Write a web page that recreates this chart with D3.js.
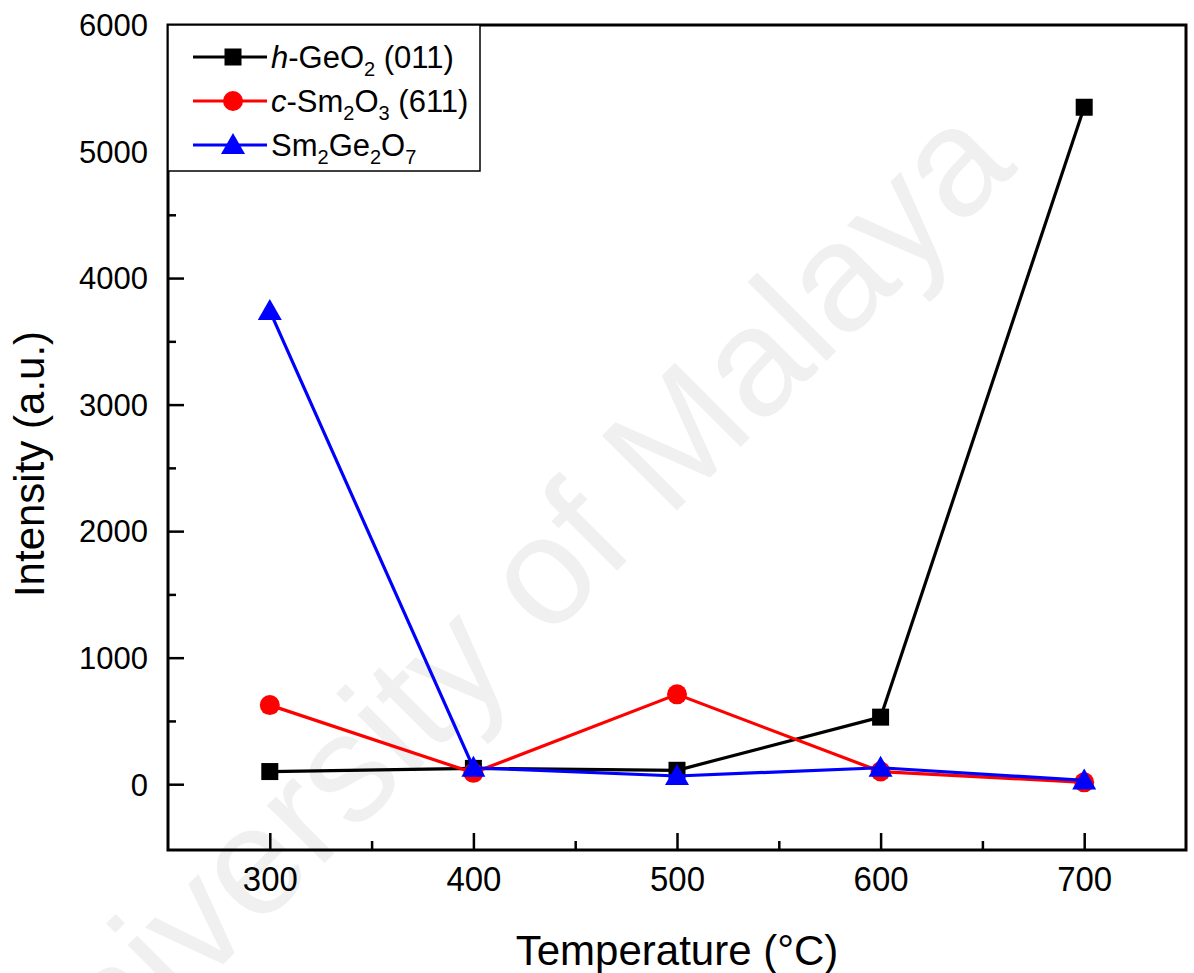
<!DOCTYPE html>
<html>
<head>
<meta charset="utf-8">
<script src="https://cdn.jsdelivr.net/npm/d3@7"></script>
<style>
  body { margin: 0; background: #fff; }
  svg { display: block; }
</style>
</head>
<body>
<svg id="chart" width="1194" height="973"></svg>
<script>
'use strict';

var temperatures = [300, 400, 500, 600, 700];
var geo2Values = [100, 125, 110, 530, 5350];
var sm2o3Values = [625, 90, 710, 100, 15];
var sm2ge2o7Values = [3740, 130, 65, 130, 30];
var yTicks = [0, 1000, 2000, 3000, 4000, 5000, 6000];
var yMinorTicks = [500, 1500, 2500, 3500, 4500, 5500];
var xTicks = [300, 400, 500, 600, 700];
var xMinorTicks = [350, 450, 550, 650];

var series = [
    { name: 'geo2', color: '#000000', shape: 'square', values: geo2Values },
    { name: 'sm2o3', color: '#ff0000', shape: 'circle', values: sm2o3Values },
    { name: 'sm2ge2o7', color: '#0000ff', shape: 'triangle', values: sm2ge2o7Values }
];

var svg = d3.select('#chart');
var plotLeft = 168, plotRight = 1186, plotTop = 25, plotBottom = 850;

var x = d3.scaleLinear().domain([250, 750]).range([plotLeft, plotRight]);
var y = d3.scaleLinear().domain([-520, 6000]).range([plotBottom, plotTop]);

// watermark
svg.append('text')
    .attr('transform', 'translate(500,630) rotate(-45)')
    .attr('text-anchor', 'middle')
    .attr('dominant-baseline', 'middle')
    .style('font-family', 'Liberation Sans, Arial, sans-serif')
    .style('font-size', '154px')
    .attr('fill', '#f0f0f0')
    .text('University of Malaya');

// axes, ticks pointing inward
var xAxis = d3.axisBottom(x).tickValues(xTicks).tickSize(-17).tickPadding(16).tickFormat(d3.format('d'));
var xMinor = d3.axisBottom(x).tickValues(xMinorTicks).tickSize(-9).tickFormat('');
var yAxis = d3.axisLeft(y).tickValues(yTicks).tickSize(-16).tickPadding(20).tickFormat(d3.format('d'));
var yMinor = d3.axisLeft(y).tickValues(yMinorTicks).tickSize(-8).tickFormat('');

function styleAxis(g) {
    g.select('.domain').remove();
    g.selectAll('.tick line').attr('stroke', '#000').attr('stroke-width', 2.5);
}

svg.append('g').attr('transform', 'translate(0,' + plotBottom + ')').call(xAxis).call(styleAxis)
    .selectAll('text').style('font-family', 'Liberation Sans, Arial, sans-serif')
    .style('font-size', '35px').attr('fill', '#000')
    .attr('textLength', 55).attr('lengthAdjust', 'spacingAndGlyphs');
svg.append('g').attr('transform', 'translate(0,' + plotBottom + ')').call(xMinor).call(styleAxis);
svg.append('g').attr('transform', 'translate(' + plotLeft + ',0)').call(yAxis).call(styleAxis)
    .selectAll('text').style('font-family', 'Liberation Sans, Arial, sans-serif')
    .style('font-size', '31px').attr('fill', '#000').attr('dy', '0.35em');
svg.append('g').attr('transform', 'translate(' + plotLeft + ',0)').call(yMinor).call(styleAxis);

// frame
svg.append('rect')
    .attr('x', plotLeft).attr('y', plotTop)
    .attr('width', plotRight - plotLeft).attr('height', plotBottom - plotTop)
    .attr('fill', 'none').attr('stroke', '#000').attr('stroke-width', 3);

// axis titles
svg.append('text')
    .attr('x', (plotLeft + plotRight) / 2).attr('y', 965)
    .attr('text-anchor', 'middle')
    .style('font-family', 'Liberation Sans, Arial, sans-serif')
    .style('font-size', '42px')
    .text('Temperature (\u00B0C)');

svg.append('text')
    .attr('transform', 'translate(44,464) rotate(-90)')
    .attr('text-anchor', 'middle')
    .style('font-family', 'Liberation Sans, Arial, sans-serif')
    .style('font-size', '42px')
    .text('Intensity (a.u.)');

// cx, cy: centre of the marker
function drawMarker(g, shape, cx, cy, color) {
    if (shape === 'square') {
        g.append('rect').attr('x', cx - 8.5).attr('y', cy - 8.5)
            .attr('width', 17).attr('height', 17).attr('fill', color);
    } else if (shape === 'circle') {
        g.append('circle').attr('cx', cx).attr('cy', cy).attr('r', 10).attr('fill', color);
    } else {
        g.append('path').attr('fill', color)
            .attr('d', ['M', cx, cy - 12, 'L', cx + 12, cy + 9, 'L', cx - 12, cy + 9, 'Z'].join(' '));
    }
}

var line = d3.line()
    .x(function (d) { return x(d[0]); })
    .y(function (d) { return y(d[1]); });

series.forEach(function (s) {
    var pts = temperatures.map(function (t, i) { return [t, s.values[i]]; });
    var g = svg.append('g');
    g.append('path').datum(pts).attr('d', line)
        .attr('fill', 'none').attr('stroke', s.color).attr('stroke-width', 3.2);
    pts.forEach(function (p) {
        drawMarker(g, s.shape, x(p[0]), y(p[1]), s.color);
    });
});

// legend
var legendBox = { x: plotLeft, y: plotTop, w: 312, h: 146 };
svg.append('rect')
    .attr('x', legendBox.x).attr('y', legendBox.y)
    .attr('width', legendBox.w).attr('height', legendBox.h)
    .attr('fill', '#fff').attr('stroke', '#000').attr('stroke-width', 1.5);

// each part: [text, font-style, is subscript]
var legendRows = [
    [['h', 'italic', 0], ['-GeO', 'normal', 0], ['2', 'normal', 1], [' (011)', 'normal', 0]],
    [['c', 'italic', 0], ['-Sm', 'normal', 0], ['2', 'normal', 1], ['O', 'normal', 0], ['3', 'normal', 1], [' (611)', 'normal', 0]],
    [['Sm', 'normal', 0], ['2', 'normal', 1], ['Ge', 'normal', 0], ['2', 'normal', 1], ['O', 'normal', 0], ['7', 'normal', 1]]
];

legendRows.forEach(function (parts, i) {
    var s = series[i];
    var cy = 57 + i * 44;
    var g = svg.append('g');
    g.append('line').attr('x1', 193).attr('x2', 267).attr('y1', cy).attr('y2', cy)
        .attr('stroke', s.color).attr('stroke-width', 3.2);
    drawMarker(g, s.shape, 233, cy, s.color);
    var t = g.append('text').attr('x', 271).attr('y', cy + 11)
        .style('font-family', 'Liberation Sans, Arial, sans-serif')
        .style('font-size', '31px');
    var baseline = 0;
    parts.forEach(function (p) {
        var target = p[2] ? 8 : 0;
        var span = t.append('tspan').text(p[0]).style('font-style', p[1])
            .attr('dy', target - baseline);
        if (p[2]) span.style('font-size', '20px');
        baseline = target;
    });
});
</script>
</body>
</html>
